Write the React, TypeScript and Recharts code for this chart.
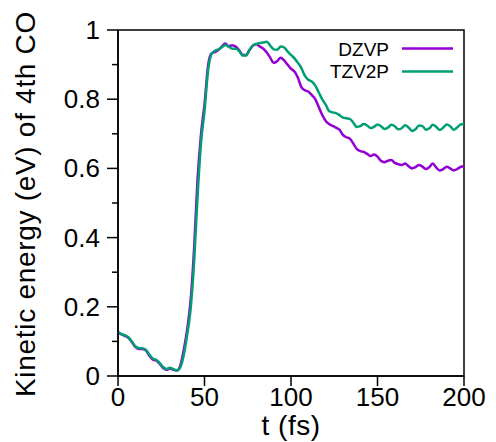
import React from "react";
import { LineChart, Line, XAxis, YAxis, ReferenceArea, Legend } from "recharts";

const timeFs = [
  0, 2, 4, 6, 8, 10, 12, 14, 16, 18, 20, 22, 24, 26, 28, 30, 32, 34, 36, 38,
  40, 42, 44, 46, 48, 50, 52, 54, 56, 58, 60, 62, 64, 66, 68, 70, 72, 74, 76, 78,
  80, 82, 84, 86, 88, 90, 92, 94, 96, 98, 100, 102, 104, 106, 108, 110, 112, 114, 116, 118,
  120, 122, 124, 126, 128, 130, 132, 134, 136, 138, 140, 142, 144, 146, 148, 150, 152, 154, 156, 158,
  160, 162, 164, 166, 168, 170, 172, 174, 176, 178, 180, 182, 184, 186, 188, 190, 192, 194, 196, 198,
  200,
];

const dzvp = [
  0.125, 0.12, 0.116, 0.11, 0.098, 0.084, 0.078, 0.078, 0.074, 0.06,
  0.048, 0.045, 0.036, 0.024, 0.018, 0.022, 0.018, 0.016, 0.03, 0.075,
  0.135, 0.22, 0.37, 0.57, 0.7, 0.785, 0.895, 0.932, 0.936, 0.942,
  0.952, 0.961, 0.953, 0.956, 0.952, 0.942, 0.928, 0.928, 0.942, 0.955,
  0.959, 0.952, 0.946, 0.935, 0.92, 0.905, 0.91, 0.92, 0.912, 0.9,
  0.888, 0.88, 0.862, 0.835, 0.826, 0.822, 0.812, 0.8, 0.778, 0.755,
  0.738, 0.728, 0.723, 0.718, 0.712, 0.697, 0.69, 0.686, 0.672, 0.656,
  0.65, 0.648, 0.642, 0.636, 0.64, 0.634, 0.622, 0.618, 0.622, 0.624,
  0.616, 0.612, 0.61, 0.614, 0.606, 0.6, 0.604, 0.61, 0.605, 0.598,
  0.604, 0.614, 0.602, 0.594, 0.598, 0.605, 0.6, 0.594, 0.598, 0.604,
  0.606,
];

const tzv2p = [
  0.128, 0.121, 0.118, 0.112, 0.1, 0.086, 0.081, 0.08, 0.076, 0.063,
  0.051, 0.047, 0.038, 0.026, 0.02, 0.024, 0.02, 0.016, 0.025, 0.06,
  0.12, 0.195, 0.33, 0.52, 0.675, 0.765, 0.88, 0.93, 0.94, 0.944,
  0.95, 0.957, 0.952, 0.946, 0.946, 0.94, 0.926, 0.926, 0.942, 0.955,
  0.96, 0.962, 0.964, 0.966, 0.955, 0.944, 0.943, 0.952, 0.95, 0.938,
  0.928, 0.918, 0.905, 0.89, 0.868, 0.856, 0.851, 0.84, 0.82, 0.8,
  0.785, 0.766, 0.762, 0.76, 0.754, 0.747, 0.745, 0.743, 0.732, 0.72,
  0.722, 0.728, 0.724, 0.717, 0.72, 0.727, 0.722, 0.714, 0.718, 0.726,
  0.722, 0.713, 0.716, 0.725, 0.718, 0.708, 0.713, 0.724, 0.722, 0.712,
  0.716, 0.726, 0.72, 0.711, 0.718, 0.727, 0.722, 0.712, 0.718, 0.727,
  0.728,
];

const xTicks = [0, 50, 100, 150, 200];
const yTicks = [0, 0.1, 0.2, 0.3, 0.4, 0.5, 0.6, 0.7, 0.8, 0.9, 1];
const yTickLabels: Record<string, string> = {
  "0": "0", "0.2": "0.2", "0.4": "0.4", "0.6": "0.6", "0.8": "0.8", "1": "1",
};
const seriesNames = ["DZVP", "TZV2P"];
const seriesColors = ["#9400d3", "#009e73"];

const data = timeFs.map((t, i) => ({ t, dzvp: dzvp[i], tzv2p: tzv2p[i] }));

const FONT = "'Liberation Sans', Arial, Helvetica, sans-serif";

const YTick = (props: any) => {
  const { x, y, payload } = props;
  const label = yTickLabels[String(payload.value)];
  const major = label !== undefined;
  return (
    <g>
      <line x1={x - (major ? 11 : 6)} x2={x} y1={y} y2={y} stroke="#000" strokeWidth={1.5} />
      {major && (
        <text x={x - 18} y={y} textAnchor="end" dominantBaseline="central" fontSize={26} fontFamily={FONT} fill="#000">
          {label}
        </text>
      )}
    </g>
  );
};

const XTick = (props: any) => {
  const { x, y, payload } = props;
  return (
    <g>
      <line x1={x} x2={x} y1={y} y2={y + 10} stroke="#000" strokeWidth={1.5} />
      <text x={x} y={y + 21} textAnchor="middle" dominantBaseline="central" fontSize={26} fontFamily={FONT} fill="#000">
        {payload.value}
      </text>
    </g>
  );
};

const LegendBox = () => (
  <svg width={496} height={100} style={{ display: "block" }}>
    {seriesNames.map((n, i) => (
      <g key={n}>
        <text x={389} y={49.5 + i * 22} textAnchor="end" dominantBaseline="central" fontSize={19} fontFamily={FONT} fill="#000">
          {n}
        </text>
        <line x1={402} x2={453} y1={48.5 + i * 23} y2={48.5 + i * 23} stroke={seriesColors[i]} strokeWidth={2.5} />
      </g>
    ))}
  </svg>
);

export default function App() {
  return (
    <div style={{ position: "absolute", left: 0, top: 0, width: 496, height: 442, background: "#fff", fontFamily: FONT }}>
      <LineChart width={496} height={442} data={data} margin={{ top: 30, right: 32, bottom: 0, left: 0 }}>
        <XAxis
          dataKey="t"
          type="number"
          domain={[0, 200]}
          ticks={xTicks}
          tick={<XTick />}
          tickLine={false}
          tickSize={0}
          tickMargin={0}
          height={66}
          axisLine={{ stroke: "#000", strokeWidth: 1.5 }}
          label={() => (
            <text x={291} y={435} textAnchor="middle" fontSize={28} fontFamily={FONT} fill="#000" letterSpacing={0.5}>
              t (fs)
            </text>
          )}
        />
        <YAxis
          type="number"
          domain={[0, 1]}
          ticks={yTicks}
          tick={<YTick />}
          tickLine={false}
          tickSize={0}
          tickMargin={0}
          width={118}
          axisLine={{ stroke: "#000", strokeWidth: 1.5 }}
          label={() => (
            <text
              x={25}
              y={204}
              transform="rotate(-90 25 204)"
              textAnchor="middle"
              dominantBaseline="central"
              fontSize={28}
              letterSpacing={0.7}
              fontFamily={FONT}
              fill="#000"
            >
              Kinetic energy (eV) of 4th CO
            </text>
          )}
        />
        <ReferenceArea x1={0} x2={200} y1={0} y2={1} fill="none" stroke="#000" strokeWidth={1.5} />
        <Line dataKey="dzvp" name="DZVP" type="monotone" stroke={seriesColors[0]} strokeWidth={2.5} dot={false} isAnimationActive={false} />
        <Line dataKey="tzv2p" name="TZV2P" type="monotone" stroke={seriesColors[1]} strokeWidth={2.5} dot={false} isAnimationActive={false} />
        <Legend
          layout="vertical"
          align="center"
          verticalAlign="middle"
          content={() => <LegendBox />}
          wrapperStyle={{ position: "absolute", left: 0, top: 0, width: 496, height: 100 }}
        />
      </LineChart>
    </div>
  );
}
